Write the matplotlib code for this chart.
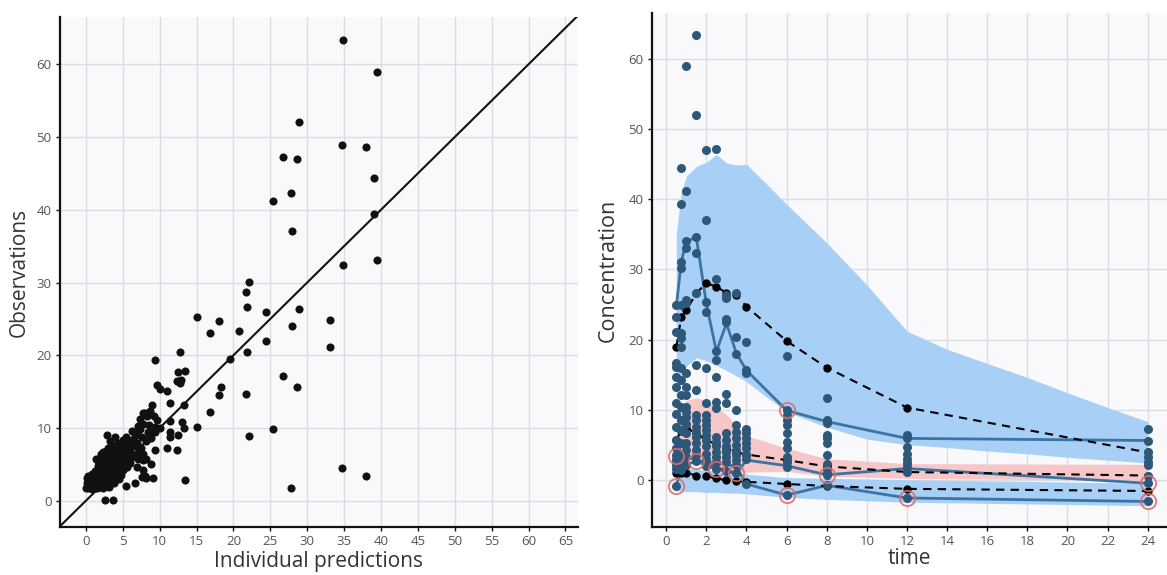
import matplotlib
matplotlib.use("Agg")
import matplotlib.pyplot as plt
import numpy as np

plt.rcParams['font.family'] = ['Open Sans', 'DejaVu Sans']

# ---- left panel: observations vs individual predictions ----
ipred_out = [34.9, 39.4, 28.9, 34.7, 38.0, 26.7, 28.6, 39.0, 27.8, 25.4, 39.0, 27.9, 34.9, 39.4,
             22.1, 21.7, 21.9, 24.4, 28.9, 27.9, 33.1, 33.1, 15.0, 18.0, 16.8, 20.7, 24.4, 12.8,
             9.4, 19.6, 21.9, 26.7, 28.6, 12.5, 13.4, 12.3, 12.9, 12.8, 9.7, 10.1, 11.0, 11.4,
             13.3, 18.3, 16.8, 18.0, 21.7, 15.0, 22.1, 25.4, 27.8, 34.7, 38.0, 13.5, 13.0, 13.3,
             11.4, 11.4, 11.4, 12.5, 12.4, 11.0, 9.4, 10.1]
obs_out = [63.4, 59.0, 52.0, 48.9, 48.6, 47.2, 47.0, 44.4, 42.3, 41.2, 39.4, 37.1, 32.4, 33.1,
           30.1, 28.7, 26.7, 25.9, 26.3, 24.0, 24.8, 21.1, 25.3, 24.7, 23.0, 23.3, 22.0, 20.4,
           19.4, 19.5, 20.4, 17.1, 15.6, 17.7, 17.8, 16.4, 16.6, 16.2, 15.9, 15.3, 15.1, 13.5,
           13.1, 15.7, 12.2, 14.5, 14.7, 10.2, 8.9, 9.8, 1.7, 4.5, 3.4, 2.8, 10.8, 10.0,
           11.0, 9.4, 8.8, 9.0, 7.0, 7.3, 10.2, 10.0]

ipred_core = [0.0, 0.3, 0.6, 0.9, 1.2, 1.5, 1.9, 2.3, 2.7, 3.1,
              0.1, 0.4, 0.8, 1.1, 1.4, 1.8, 2.2, 2.6, 3.0, 3.4, 3.8,
              0.2, 0.5, 0.9, 1.3, 1.7, 2.1, 2.5, 2.9, 3.3, 3.7, 4.1, 4.5,
              0.3, 0.8, 1.5, 2.0, 2.4, 2.8, 3.2, 3.6, 4.0, 4.4, 4.8,
              1.2, 1.8, 2.3, 2.7, 3.1, 3.5, 3.9, 4.3, 4.7, 5.1,
              1.6, 2.2, 2.6, 3.0, 3.4, 3.8, 4.2, 4.6, 5.0, 5.6,
              1.7, 2.4, 2.9, 3.3, 3.7, 4.1, 4.5, 4.9, 5.3, 6.0,
              2.0, 2.6, 3.1, 3.6, 4.0, 4.5, 5.0, 5.5, 6.2, 6.8,
              2.3, 2.8, 3.4, 4.2, 4.8, 5.4, 6.0, 7.2,
              3.0, 3.8, 4.6, 5.2, 5.8, 6.5, 7.5,
              3.3, 4.3, 5.0, 5.8, 6.3, 7.0, 8.1,
              2.9, 4.0, 5.5, 6.6, 7.6, 8.6,
              6.2, 6.9, 7.4, 8.4, 9.3,
              7.1, 7.8, 8.5,
              7.4, 8.0, 8.3, 8.7, 9.0, 9.6, 9.2, 7.7,
              5.5, 6.7, 7.6, 8.2, 9.1, 8.0, 6.9, 7.8, 8.9, 7.8, 8.2, 7.1, 9.4, 7.8, 8.8, 9.4,
              2.6, 3.7, 1.4, 2.1]
obs_core = [1.8, 1.7, 1.9, 1.6, 1.8, 1.7, 1.9, 1.8, 2.0, 1.9,
            2.4, 2.3, 2.5, 2.3, 2.6, 2.4, 2.5, 2.3, 2.6, 2.4, 2.5,
            3.1, 2.9, 3.2, 3.0, 3.2, 2.9, 3.1, 3.0, 3.2, 2.9, 3.1, 3.0,
            3.4, 3.7, 3.5, 3.7, 3.6, 3.8, 3.5, 3.7, 3.6, 3.8, 3.5,
            4.1, 4.3, 4.2, 4.4, 4.1, 4.3, 4.2, 4.4, 4.1, 4.3,
            4.8, 4.9, 4.7, 4.9, 4.8, 5.0, 4.7, 4.9, 4.8, 4.6,
            5.5, 5.3, 5.5, 5.4, 5.6, 5.3, 5.5, 5.4, 5.6, 5.2,
            6.1, 6.0, 6.2, 6.0, 6.2, 6.0, 6.1, 5.9, 6.0, 6.3,
            6.7, 6.8, 6.6, 6.8, 6.6, 6.9, 6.7, 6.6,
            7.3, 7.5, 7.4, 7.6, 7.3, 7.5, 7.2,
            8.2, 8.0, 8.3, 8.1, 8.4, 8.0, 8.2,
            9.0, 8.7, 8.8, 8.9, 8.7, 8.6,
            9.6, 9.4, 9.8, 9.5, 9.6,
            10.3, 10.6, 10.4,
            11.2, 12.0, 11.7, 12.4, 13.2, 11.1, 11.7, 12.1,
            2.0, 2.5, 3.3, 3.1, 3.2, 3.4, 4.7, 4.2, 5.0, 5.6, 5.7, 5.8, 7.0, 6.5, 8.6, 9.5,
            0.1, 0.1, 5.8, 6.5]

# ---- right panel: VPC ----
bins = [0.5, 0.75, 1, 1.5, 2, 2.5, 3, 3.5, 4, 6, 8, 12, 24]

band_hi_t = [0.5, 0.75, 1, 1.5, 2, 2.5, 3, 3.5, 4, 5, 6, 8, 10, 12, 14, 16, 18, 20, 22, 24]
band_hi_top = [35.0, 41.0, 43.3, 44.7, 45.3, 46.4, 45.2, 44.9, 45.0, 42.2, 39.3, 33.8, 27.8, 21.2,
               18.6, 16.6, 14.6, 12.4, 10.3, 8.3]
band_hi_bot = [11.0, 15.0, 16.2, 17.4, 17.0, 16.3, 15.6, 14.8, 14.0, 11.8, 9.7, 7.5, 5.8, 5.0,
               4.6, 4.1, 3.7, 3.2, 2.8, 2.4]
band_med_top = [9.0, 10.5, 11.3, 11.7, 11.3, 10.3, 9.3, 7.8, 6.3, 4.5, 3.0, 2.3, 2.2]
band_med_bot = [3.6, 3.5, 3.3, 3.0, 2.5, 1.9, 1.6, 1.1, 1.1, 1.2, 0.5, 0.2, -0.1]
band_lo_top = [1.8, 1.7, 1.6, 1.5, 1.3, 1.2, 1.0, 0.9, 0.8, 0.3, 0.2, 0.0, -0.5]
band_lo_bot = [-1.6, -1.6, -1.7, -1.7, -1.8, -1.8, -1.9, -1.9, -2.0, -2.5, -2.8, -3.2, -3.7]

obs_p95 = [24.7, 31.1, 34.0, 34.6, 25.1, 18.3, 22.3, 18.0, 15.6, 9.9, 8.3, 5.9, 5.6]
obs_p50 = [3.4, 3.7, 3.4, 2.7, 2.0, 1.5, 1.2, 0.9, 2.8, 2.0, 0.7, 1.6, -0.5]
obs_p05 = [-0.9, 1.8, 2.2, 2.6, 2.6, 2.3, 2.2, 1.8, -0.6, -2.2, -0.8, -2.6, -3.1]

pred_p95 = [18.9, 23.2, 24.2, 26.6, 28.1, 27.5, 26.7, 26.3, 24.7, 19.8, 16.0, 10.3, 3.9]
pred_p50 = [5.7, 7.0, 7.4, 6.6, 5.7, 5.0, 4.4, 3.9, 3.6, 2.8, 1.9, 1.1, 0.6]
pred_p05 = [0.9, 1.0, 1.0, 0.6, 0.5, 0.2, -0.1, -0.2, -0.3, -0.6, -0.9, -1.3, -1.6]

conc = {
    0.5: [24.9, 23.2, 21.1, 16.6, 16.1, 14.7, 13.3, 10.9, 9.4, 7.5, 5.6, 4.5, 3.5, 3.0, 2.5, 2.1, 1.6, -0.9],
    0.75: [44.5, 39.4, 31.1, 30.2, 24.9, 20.9, 20.2, 19.0, 15.9, 14.2, 12.1, 10.4, 8.5, 7.1, 5.2, 3.7, 2.5, 1.4],
    1: [59.1, 41.2, 34.0, 33.0, 25.6, 25.2, 15.2, 13.3, 12.1, 10.4, 9.7, 9.0, 8.0, 6.6, 5.2, 4.2, 3.2, 2.1],
    1.5: [63.4, 52.0, 34.6, 32.4, 26.6, 16.4, 12.8, 9.2, 8.5, 7.5, 6.8, 6.1, 5.2, 4.2, 3.5, 2.7],
    2: [47.0, 37.1, 25.4, 24.0, 15.9, 10.9, 9.2, 8.5, 7.8, 7.1, 6.4, 5.7, 4.8, 3.7, 3.0, 2.0],
    2.5: [47.2, 28.7, 18.3, 17.1, 14.7, 11.1, 10.2, 6.1, 5.4, 4.8, 4.0, 3.2, 2.5, 1.5],
    3: [26.4, 25.9, 23.0, 22.5, 12.3, 10.9, 6.6, 5.7, 4.8, 4.0, 3.2, 2.5, 1.2],
    3.5: [26.6, 20.4, 18.0, 9.9, 7.8, 6.8, 5.9, 5.0, 4.2, 3.5, 2.8, 2.1, 0.9],
    4: [19.6, 15.6, 15.2, 7.3, 6.6, 5.9, 5.2, 4.5, 3.7, 3.0, -0.6],
    6: [17.6, 9.9, 9.2, 8.5, 7.8, 6.6, 5.4, 4.5, 3.2, 2.5, 1.8, -2.2],
    8: [11.7, 8.5, 8.1, 6.4, 5.9, 5.2, 3.5, 2.3, 1.6, 1.0, 0.7, -0.8],
    12: [6.4, 5.9, 4.7, 3.7, 3.0, 2.4, 1.8, 1.1, -2.6],
    24: [7.3, 5.5, 3.9, 3.2, 2.5, 2.1, 0.6, -0.5, -3.1],
}

out_t = [0.5, 0.5, 1.5, 2.5, 3.5, 6, 6, 8, 12, 24, 24]
out_c = [3.4, -0.9, 2.7, 1.5, 0.9, 9.9, -2.2, 0.7, -2.6, -0.5, -3.1]

fig = plt.figure(figsize=(11.67, 5.75), dpi=100)
bg = '#f9f9fc'
gridc = '#dcdce3'
tickc = '#555555'
labc = '#333333'


def style(ax):
    ax.set_facecolor(bg)
    for s in ['top', 'right']:
        ax.spines[s].set_visible(False)
    for s in ['left', 'bottom']:
        ax.spines[s].set_linewidth(1.6)
        ax.spines[s].set_color('#111111')
    ax.grid(True, color=gridc, linewidth=1.0)
    ax.set_axisbelow(True)
    ax.tick_params(labelsize=9.5, colors=tickc, length=3, width=1, pad=3)
    ax.tick_params(axis='both', color='#111111')


# left
ax1 = fig.add_axes([0.0514, 0.0835, 0.4439, 0.887])
style(ax1)
ax1.scatter(ipred_out + ipred_core, obs_out + obs_core, s=34, color='#111111', zorder=3,
            linewidths=0)
ax1.plot([-5, 70], [-5, 70], color='#111111', lw=1.5, zorder=4)
ax1.set_xlim(-3.5, 66.7)
ax1.set_ylim(-3.6, 66.5)
ax1.set_xticks(range(0, 66, 5))
ax1.set_yticks(range(0, 61, 10))
ax1.set_xlabel('Individual predictions', fontsize=15, color=labc, labelpad=2)
ax1.set_ylabel('Observations', fontsize=15, color=labc, labelpad=5)

# right
ax2 = fig.add_axes([0.5587, 0.0835, 0.4413, 0.894])
style(ax2)
ax2.fill_between(band_hi_t, band_hi_bot, band_hi_top, color='#a8d0f6', lw=0, zorder=1)
ax2.fill_between(bins, band_med_bot, band_med_top, color='#f7c6c8', lw=0, zorder=1)
ax2.fill_between(bins, band_lo_bot, band_lo_top, color='#a8d0f6', lw=0, zorder=1)
b = np.array(bins)
m = np.array(obs_p50)
lo = np.array(band_med_bot)
ax2.fill_between(b, m, lo, where=(m < lo) & (b < 4), interpolate=True, color='#e3171d', lw=0,
                 zorder=1.5)

for line in [obs_p95, obs_p50, obs_p05]:
    ax2.plot(bins, line, color='#3b74a2', lw=2, zorder=2)
for line in [pred_p95, pred_p50, pred_p05]:
    ax2.plot(bins, line, color='black', lw=1.5, ls=(0, (4, 3)), marker='o', ms=5, zorder=3)

for t in conc:
    ax2.plot([t] * len(conc[t]), conc[t], 'o', color='#2d5879', ms=6.5, mew=0, zorder=4)

ax2.plot(out_t, out_c, 'o', mfc='none', mec='#e06b6b', mew=1.4, ms=11, alpha=0.85, zorder=5)

ax2.set_xlim(-0.71, 24.96)
ax2.set_ylim(-6.74, 66.6)
ax2.set_xticks(range(0, 25, 2))
ax2.set_yticks(range(0, 61, 10))
ax2.set_xlabel('time', fontsize=15, color=labc, labelpad=0)
ax2.set_ylabel('Concentration', fontsize=15.5, color=labc, labelpad=7)

fig.savefig('out.png', dpi=100, facecolor='white')
